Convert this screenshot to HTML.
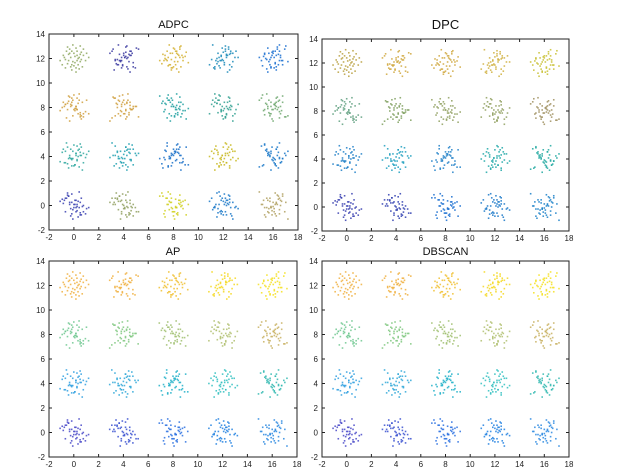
<!DOCTYPE html>
<html><head><meta charset="utf-8"><style>
body{margin:0;background:#fff;width:617px;height:474px;overflow:hidden}
svg{display:block;font-family:"Liberation Sans",sans-serif}
</style></head><body>
<svg id="fig" width="617" height="474"></svg>
<script>
const xTicks=[-2,0,2,4,6,8,10,12,14,16,18];
const yTicks=[-2,0,2,4,6,8,10,12,14];
const centersX=[0,4,8,12,16];
const centersY=[12,8,4,0];
const titles=["ADPC","DPC","AP","DBSCAN"];
const offsets=[[0.1,0.2],[-0.5,0.4],[0.6,-0.3],[-0.2,-0.6],[0.3,0.7],[-0.8,-0.1],[0.9,0.3],[0.2,-0.9],[-0.4,0.9],[0.5,0.1],[-0.1,-0.3],[0.7,0.6],[-0.6,-0.5],[0.0,0.5],[1.1,-0.2],[-1.0,0.3],[0.4,-0.6],[-0.3,0.1],[0.2,1.0],[-0.7,0.7],[0.8,-0.8],[-0.2,-1.1],[0.6,0.4],[-0.5,-0.2],[0.1,-0.4],[1.2,0.5],[-1.1,-0.6],[0.3,0.3],[-0.9,0.1],[0.5,-1.0],[-0.4,0.5],[0.9,0.9],[0.0,-0.7],[-0.6,1.1],[0.7,-0.1],[-0.2,0.7],[0.4,0.0],[-1.3,-0.2],[1.4,0.1],[-0.1,1.3],[0.2,-1.3],[-0.8,-0.9],[0.6,1.2],[0.3,-0.2],[-0.3,-0.8]];
const colorsADPC=["#8fa860","#3b3aa0","#d4b030","#1a8ab8","#1a6ed0","#d0a040","#d0a040","#20a0a0","#30a090","#70a870","#30a8a0","#20a0b0","#1a70c8","#c8b820","#1a78c8","#3840b0","#90a060","#d0d020","#1a78c8","#b0a060"];
const colorsDPC=["#b8a040","#d0a840","#d0a840","#d0b040","#c8c030","#60a080","#80a060","#90a060","#90a060","#a09060","#2080c8","#20a0c0","#2080c8","#20a8a8","#20a8a0","#3840b0","#3040b0","#1a6ed0","#1a78c8","#1a80c8"];
const colorsAP=["#f0b040","#f0b040","#f0c030","#f5d820","#f5e020","#70c890","#80c880","#a0c070","#b0c070","#c8b060","#30a0e0","#30a8d8","#20b0c8","#30c0c0","#30b8b0","#4848c8","#3850d0","#2a70e0","#2080e0","#2a88e0"];
const colorsDB=colorsAP;
const palettes=[colorsADPC,colorsDPC,colorsAP,colorsDB];
const boxes=[[49,34,298,230],[322,39,569,231],[49,261,297,457],[322,261,569,457]];
const NS="http://www.w3.org/2000/svg";
const svg=document.getElementById('fig');
function mk(t,a,p){const e=document.createElementNS(NS,t);for(const k in a)e.setAttribute(k,a[k]);(p||svg).appendChild(e);return e;}
boxes.forEach((b,pi)=>{
  const [L,T,R,B]=b;
  const g=mk('g',{});
  
  
  const sx=v=>L+(v+2)/20*(R-L), sy=v=>B-(v+2)/16*(B-T);
  const pal=palettes[pi];
  centersY.forEach((cy,ri)=>centersX.forEach((cx,ci)=>{
    const k=ri*5+ci;
    offsets.forEach((o,j)=>{
      const oo=offsets[(j+k*7)%offsets.length];
      const c=mk('rect',{x:sx(cx+oo[0]*0.85)-0.8,y:sy(cy+o[1]*0.85)-0.8,width:1.6,height:1.6,fill:pal[k],opacity:0.85},g);
      
      
    });
  }));
  const fr=mk('rect',{x:L,y:T,width:R-L,height:B-T,fill:'none',stroke:'#222','stroke-width':1},g);
  
  
  xTicks.forEach(v=>{
    const x=sx(v);
    mk('line',{x1:x,x2:x,y1:B,y2:B-3,stroke:'#222'},g);
    mk('line',{x1:x,x2:x,y1:T,y2:T+3,stroke:'#222'},g);
    const t=mk('text',{x:x,y:B+10,'font-size':8,'text-anchor':'middle',fill:'#222'},g);
    t.textContent=v;
    
    
  });
  yTicks.forEach(v=>{
    const y=sy(v);
    mk('line',{x1:L,x2:L+3,y1:y,y2:y,stroke:'#222'},g);
    mk('line',{x1:R,x2:R-3,y1:y,y2:y,stroke:'#222'},g);
    const t=mk('text',{x:L-4,y:y+3,'font-size':8,'text-anchor':'end',fill:'#222'},g);
    t.textContent=v;
    
    
  });
  const tt=mk('text',{x:(L+R)/2,y:pi==1?T-10:T-6,'font-size':pi==1?13:11,'text-anchor':'middle',fill:'#111'},g);
  tt.textContent=titles[pi];
  
  
});
</script>
</body></html>
